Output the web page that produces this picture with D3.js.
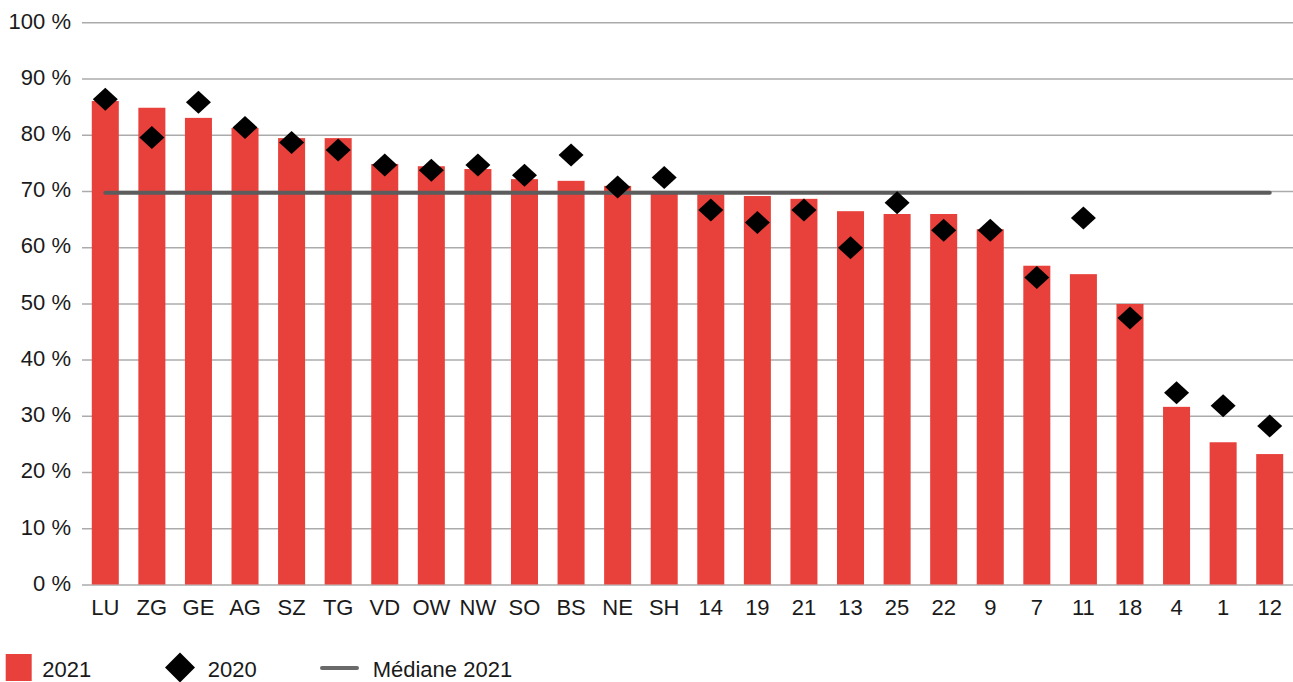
<!DOCTYPE html>
<html>
<head>
<meta charset="utf-8">
<script src="https://cdn.jsdelivr.net/npm/d3@7"></script>
<style>
  html, body { margin: 0; padding: 0; background: #fff; }
  svg { display: block; }
  text { font-family: "Liberation Sans", Arial, Helvetica, sans-serif; fill: #1a1a1a; }
</style>
</head>
<body>
<svg id="chart" width="1293" height="682"></svg>
<script>
// Cantons / regions, sorted by 2021 share
const categories = ["LU","ZG","GE","AG","SZ","TG","VD","OW","NW","SO","BS","NE","SH","14","19","21","13","25","22","9","7","11","18","4","1","12"];
// Share in 2021 (%), drawn as bars
const values2021 = [86.0,84.8,83.0,81.2,79.4,79.4,74.8,74.4,73.9,72.1,71.8,70.9,69.9,69.4,69.1,68.6,66.4,65.9,65.9,63.2,56.7,55.2,49.9,31.6,25.3,23.2];
// Share in 2020 (%), drawn as diamonds
const values2020 = [86.3,79.5,85.8,81.3,78.6,77.3,74.6,73.7,74.6,72.8,76.4,70.7,72.4,66.6,64.4,66.6,59.9,67.9,63.0,63.0,54.6,65.2,47.4,34.1,31.8,28.2];
// Median of the 2021 values (%)
const median2021 = 69.7;
// Y axis ticks (%)
const yTicks = [0,10,20,30,40,50,60,70,80,90,100];
// Legend entries
const legendLabels = ["2021", "2020", "Médiane 2021"];

const RED = "#e8403a";
const GRID = "#ababab";
const MEDIAN = "#5c5c5c";

const svg = d3.select("#chart");
const plotLeft = 82, plotRight = 1293, plotTop = 22.3, plotBottom = 584.5;

const x = d3.scaleBand()
  .domain(categories)
  .range([plotLeft, plotRight])
  .paddingInner(0.42)
  .paddingOuter(0.21);

const y = d3.scaleLinear().domain([0, 100]).range([plotBottom, plotTop]);

// Gridlines and y labels
const yAxis = d3.axisLeft(y)
  .tickValues(yTicks)
  .tickSizeInner(-(plotRight - plotLeft))
  .tickSizeOuter(0)
  .tickPadding(11)
  .tickFormat(d => d + " %");

const gy = svg.append("g")
  .attr("transform", `translate(${plotLeft},0)`)
  .call(yAxis);
gy.select(".domain").remove();
gy.selectAll(".tick line").attr("stroke", GRID).attr("stroke-width", 1.5);
gy.selectAll(".tick text")
  .attr("font-size", 22)
  .attr("dy", "0.26em")
  .attr("fill", "#1a1a1a");

// Bars 2021
svg.append("g").selectAll("rect")
  .data(categories)
  .join("rect")
  .attr("x", d => x(d))
  .attr("width", x.bandwidth())
  .attr("y", (d, i) => y(values2021[i]))
  .attr("height", (d, i) => plotBottom - y(values2021[i]))
  .attr("fill", RED);

// X labels
const xAxis = d3.axisBottom(x).tickSize(0).tickPadding(15);
const gx = svg.append("g")
  .attr("transform", `translate(0,${plotBottom})`)
  .call(xAxis);
gx.select(".domain").remove();
gx.selectAll(".tick text")
  .attr("font-size", 22)
  .attr("fill", "#1a1a1a");

// Median line
const cx = d => x(d) + x.bandwidth() / 2;
svg.append("line")
  .attr("x1", cx(categories[0]))
  .attr("x2", cx(categories[categories.length - 1]))
  .attr("y1", y(median2021))
  .attr("y2", y(median2021))
  .attr("stroke", MEDIAN)
  .attr("stroke-width", 4)
  .attr("stroke-linecap", "round");

// Diamonds 2020
const diamond = (hw, hh) => `M0,${-hh}L${hw},0L0,${hh}L${-hw},0Z`;
svg.append("g").selectAll("path")
  .data(categories)
  .join("path")
  .attr("d", diamond(12.5, 11.5))
  .attr("transform", (d, i) => `translate(${cx(d)},${y(values2020[i])})`)
  .attr("fill", "#000");

// Legend
const lg = svg.append("g");
lg.append("rect")
  .attr("x", 5.7).attr("y", 654)
  .attr("width", 26).attr("height", 27)
  .attr("fill", RED);
lg.append("text")
  .attr("x", 42.3).attr("y", 676.7)
  .attr("font-size", 22)
  .text(legendLabels[0]);
lg.append("path")
  .attr("d", diamond(15, 15))
  .attr("transform", "translate(180,667.5)")
  .attr("fill", "#000");
lg.append("text")
  .attr("x", 207.7).attr("y", 676.7)
  .attr("font-size", 22)
  .text(legendLabels[1]);
lg.append("line")
  .attr("x1", 322).attr("x2", 357)
  .attr("y1", 668).attr("y2", 668)
  .attr("stroke", "#6a6a6a")
  .attr("stroke-width", 4)
  .attr("stroke-linecap", "round");
lg.append("text")
  .attr("x", 372.7).attr("y", 676.7)
  .attr("font-size", 22)
  .text(legendLabels[2]);
</script>
</body>
</html>
